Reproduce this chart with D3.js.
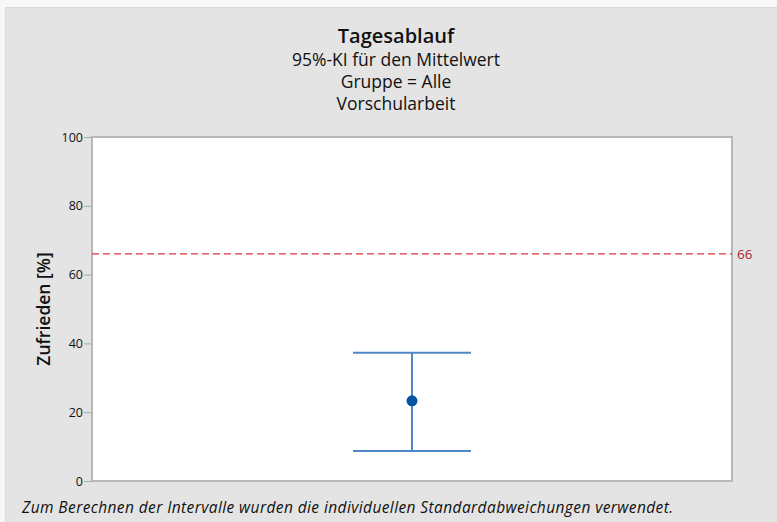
<!DOCTYPE html>
<html>
<head>
<meta charset="utf-8">
<script src="https://cdn.jsdelivr.net/npm/d3@7"></script>
<style>
  html, body { margin: 0; padding: 0; background: #f7f7f7; }
  svg { display: block; font-family: "Open Sans", "Noto Sans", sans-serif; }
</style>
</head>
<body>
<svg id="chart" width="777" height="522"></svg>
<script>
// data
const titleLines = ["Tagesablauf", "95%-KI für den Mittelwert", "Gruppe = Alle", "Vorschularbeit"];
const groups = ["Alle"];
const means = [23.3];
const lowers = [8.7];
const uppers = [37.3];
const refValue = 66;
const yTicks = [0, 20, 40, 60, 80, 100];
const yLabel = "Zufrieden [%]";
const footnote = "Zum Berechnen der Intervalle wurden die individuellen Standardabweichungen verwendet.";

let svg = d3.select("#chart");

let margin = {top: 137, right: 45, bottom: 41, left: 92},
    width = 777 - margin.left - margin.right,
    height = 522 - margin.top - margin.bottom;

// grey panel behind everything
svg.append("rect")
    .attr("x", 5.5).attr("y", 7.5)
    .attr("width", 777).attr("height", 522)
    .attr("fill", "#e4e4e4")
    .attr("stroke", "#dadada");

// titles
svg.selectAll(".title")
    .data(titleLines)
    .enter().append("text")
    .attr("x", 396)
    .attr("y", (d, i) => i == 0 ? 43 : 66 + (i - 1) * 22)
    .attr("text-anchor", "middle")
    .attr("fill", "#111")
    .style("font-size", (d, i) => i == 0 ? "20px" : "17.5px")
    .style("font-weight", (d, i) => i == 0 ? 600 : 500)
    .text(d => d);

let g = svg.append("g")
    .attr("transform", "translate(" + margin.left + "," + margin.top + ")");

let xScale = d3.scaleBand()
    .domain(groups)
    .range([0, width]);

let yScale = d3.scaleLinear()
    .domain([0, 100])
    .range([height, 0]);

// plot area
g.append("rect")
    .attr("width", width).attr("height", height)
    .attr("fill", "#fff");

//Add the y Axis
let yAxis = g.append("g")
    .call(d3.axisLeft(yScale).tickValues(yTicks).tickSize(8).tickPadding(1));
yAxis.select(".domain").remove();
yAxis.selectAll("line").attr("stroke", "#a8a8a8");
yAxis.selectAll("text")
    .attr("fill", "#111")
    .style("font-size", "12.5px")
    .style("font-weight", 500)
    .style("font-family", "'Open Sans', sans-serif");

// frame
g.append("rect")
    .attr("width", width).attr("height", height)
    .attr("fill", "none")
    .attr("stroke", "#b8b8b8")
    .attr("stroke-width", 2);

//Add the y Axis label
g.append("text")
    .attr("transform", "rotate(-90)")
    .attr("x", -yScale(50))
    .attr("y", -42)
    .attr("text-anchor", "middle")
    .attr("fill", "#111")
    .style("font-size", "17.5px")
    .style("font-weight", 600)
    .text(yLabel);

// reference line
g.append("line")
    .attr("x1", 0).attr("x2", width)
    .attr("y1", yScale(refValue)).attr("y2", yScale(refValue))
    .attr("stroke", "#d9363e")
    .attr("stroke-width", 1.3)
    .attr("stroke-dasharray", "7,4");

g.append("text")
    .attr("x", width + 5)
    .attr("y", yScale(refValue) + 5)
    .attr("fill", "#a8262c")
    .style("font-size", "13.5px")
    .style("font-weight", 500)
    .text(refValue);

// interval bars
let cx = d => xScale(d) + xScale.bandwidth() / 2;
let capHalf = 59;

let bars = g.selectAll(".ci")
    .data(groups)
    .enter().append("g")
    .attr("class", "ci")
    .attr("stroke", "#4f86c4")
    .attr("stroke-width", 2);

bars.append("line")
    .attr("x1", cx).attr("x2", cx)
    .attr("y1", (d, i) => yScale(lowers[i]))
    .attr("y2", (d, i) => yScale(uppers[i]));

bars.append("line")
    .attr("x1", d => cx(d) - capHalf).attr("x2", d => cx(d) + capHalf)
    .attr("y1", (d, i) => yScale(uppers[i]))
    .attr("y2", (d, i) => yScale(uppers[i]));

bars.append("line")
    .attr("x1", d => cx(d) - capHalf).attr("x2", d => cx(d) + capHalf)
    .attr("y1", (d, i) => yScale(lowers[i]))
    .attr("y2", (d, i) => yScale(lowers[i]));

g.selectAll(".mean")
    .data(groups)
    .enter().append("circle")
    .attr("cx", cx)
    .attr("cy", (d, i) => yScale(means[i]))
    .attr("r", 5.5)
    .attr("fill", "#0054a6");

// footnote
svg.append("text")
    .attr("x", 22)
    .attr("y", 513)
    .attr("fill", "#111")
    .style("font-size", "15.5px")
    .style("font-style", "italic")
    .style("letter-spacing", "0.4px")
    .text(footnote);
</script>
</body>
</html>
